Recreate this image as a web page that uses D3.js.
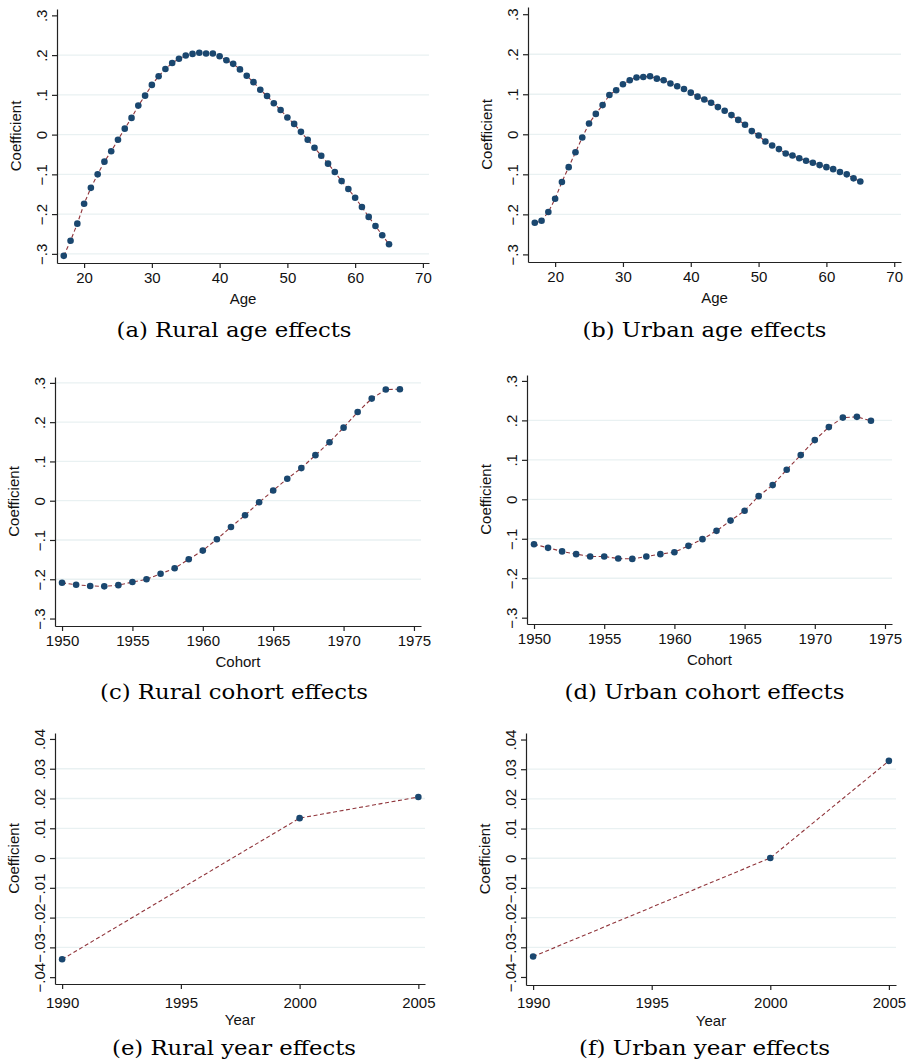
<!DOCTYPE html>
<html>
<head>
<meta charset="utf-8">
<script src="https://cdn.jsdelivr.net/npm/d3@7"></script>
<style>
    body { margin: 0; background: #fff; }
    svg { display: block; }
    .axis text, .axis-title { font-family: "Liberation Sans", Arial, sans-serif; font-size: 15px; fill: #111; }
    .axis path, .axis line { stroke: #222; stroke-width: 1.2; }
    .grid line { stroke: #e9f1f2; stroke-width: 1.3; }
    .caption { font-family: "DejaVu Serif", serif; font-size: 19.5px; fill: #000; }
    .series { fill: none; stroke: #90353b; stroke-width: 1.1; stroke-dasharray: 4,2.6; }
    .point { fill: #1a476f; }
</style>
</head>
<body>
<div id="chart"></div>
<script>

// ---- DATA ----
const ages = [17,18,19,20,21,22,23,24,25,26,27,28,29,30,31,32,33,34,35,36,37,38,39,40,41,
              42,43,44,45,46,47,48,49,50,51,52,53,54,55,56,57,58,59,60,61,62,63,64,65];
const ruralAge = [-0.305,-0.267,-0.224,-0.174,-0.134,-0.100,-0.068,-0.042,-0.013,0.015,0.042,0.073,0.098,
                  0.125,0.147,0.165,0.180,0.191,0.199,0.203,0.206,0.204,0.204,0.197,0.187,0.178,0.164,
                  0.148,0.132,0.113,0.097,0.079,0.062,0.043,0.027,0.007,-0.013,-0.033,-0.053,-0.073,
                  -0.094,-0.117,-0.137,-0.159,-0.182,-0.207,-0.230,-0.253,-0.276];
const urbanAge = [-0.221,-0.216,-0.194,-0.161,-0.119,-0.082,-0.045,-0.008,0.027,0.051,0.073,0.098,0.110,
                  0.125,0.135,0.142,0.143,0.145,0.139,0.135,0.127,0.120,0.113,0.104,0.094,0.087,0.079,
                  0.068,0.059,0.048,0.036,0.024,0.008,-0.003,-0.018,-0.028,-0.037,-0.048,-0.053,-0.060,
                  -0.066,-0.071,-0.077,-0.082,-0.087,-0.094,-0.100,-0.110,-0.118];

const cohorts = [1950,1951,1952,1953,1954,1955,1956,1957,1958,1959,1960,1961,1962,
                 1963,1964,1965,1966,1967,1968,1969,1970,1971,1972,1973,1974];
const ruralCohort = [-0.209,-0.214,-0.217,-0.218,-0.215,-0.207,-0.200,-0.186,-0.172,-0.149,-0.127,-0.098,
                     -0.067,-0.037,-0.004,0.026,0.056,0.083,0.116,0.149,0.186,0.226,0.260,0.283,0.284];
const urbanCohort = [-0.114,-0.123,-0.132,-0.139,-0.145,-0.145,-0.150,-0.151,-0.145,-0.139,-0.134,-0.118,
                     -0.101,-0.080,-0.054,-0.029,0.008,0.036,0.075,0.112,0.150,0.183,0.207,0.209,0.199];

const years = [1990, 2000, 2005];
const ruralYear = [-0.0340, 0.0134, 0.0205];
const urbanYear = [-0.0331, 0.0001, 0.0328];

// ticks
const ageTicks = [20, 30, 40, 50, 60, 70];
const cohortTicks = [1950, 1955, 1960, 1965, 1970, 1975];
const yearTicks = [1990, 1995, 2000, 2005];
const coefTicks = [-0.3, -0.2, -0.1, 0, 0.1, 0.2, 0.3];
const yearCoefTicks = [-0.04, -0.03, -0.02, -0.01, 0, 0.01, 0.02, 0.03, 0.04];

// gridlines shown in each panel
const gridA = [-0.3, -0.2, -0.1, 0, 0.1, 0.2];
const gridB = [-0.2, -0.1, 0, 0.1, 0.2];
const gridC = [-0.2, -0.1, 0, 0.1, 0.2, 0.3];
const gridD = [-0.2, -0.1, 0, 0.1, 0.2];
const gridYear = [-0.03, -0.02, -0.01, 0, 0.01, 0.02, 0.03];

const captions = ['(a) Rural age effects', '(b) Urban age effects', '(c) Rural cohort effects',
                  '(d) Urban cohort effects', '(e) Rural year effects', '(f) Urban year effects'];


class Panel {

    constructor(svg, x, y, config) {
        this.svg = svg;
        this.xs = x;
        this.ys = y;
        this.cfg = config;
        this.draw();
    }

    fmt(v) {
        if (v === 0) return '0';
        let s = d3.format('.2~f')(Math.abs(v)).replace(/^0\./, '.');
        return (v < 0 ? '\u2212' : '') + s;
    }

    draw() {
        let self = this, c = this.cfg;

        let x = d3.scaleLinear().domain(c.xDomain).range([c.box[0], c.box[1]]);
        let y = d3.scaleLinear().domain(c.yDomain).range([c.box[3], c.box[2]]);

        let g = this.svg.append('g').attr('class', 'panel');

        // GRIDLINES
        g.append('g').attr('class', 'grid')
            .selectAll('line').data(c.grid).enter().append('line')
            .attr('x1', c.box[0]).attr('x2', c.box[1])
            .attr('y1', function(d) { return y(d); })
            .attr('y2', function(d) { return y(d); });

        // AXIS
        g.append('g').attr('class', 'axis axis--x')
            .attr('transform', 'translate(0,' + c.box[3] + ')')
            .call(d3.axisBottom(x).tickValues(c.xTicks).tickSize(5).tickSizeOuter(0)
                .tickPadding(c.xPad).tickFormat(d3.format('d')));

        let ya = g.append('g').attr('class', 'axis axis--y')
            .attr('transform', 'translate(' + c.box[0] + ',0)')
            .call(d3.axisLeft(y).tickValues(c.yTicks).tickSize(5).tickSizeOuter(0)
                .tickFormat(function(d) { return self.fmt(d); }));

        ya.selectAll('text')
            .attr('x', 0).attr('y', 0).attr('dy', 0)
            .attr('text-anchor', 'middle')
            .attr('transform', 'translate(-10,0) rotate(-90)');

        // AXIS TITLES
        g.append('text').attr('class', 'axis-title')
            .attr('text-anchor', 'middle')
            .attr('x', (c.box[0] + c.box[1]) / 2)
            .attr('y', c.box[3] + 41)
            .text(c.xTitle);

        g.append('text').attr('class', 'axis-title')
            .attr('text-anchor', 'middle')
            .attr('transform', 'translate(' + (c.box[0] - 36) + ',' + ((c.box[2] + c.box[3]) / 2) + ') rotate(-90)')
            .text('Coefficient');

        // LINE
        let pts = this.xs.map(function(d, i) { return [d, self.ys[i]]; });
        let line = d3.line()
            .x(function(d) { return x(d[0]); })
            .y(function(d) { return y(d[1]); });

        g.append('path').attr('class', 'series').attr('d', line(pts));

        // POINTS
        g.selectAll('.point').data(pts).enter().append('circle')
            .attr('class', 'point')
            .attr('r', 3.3)
            .attr('cx', function(d) { return x(d[0]); })
            .attr('cy', function(d) { return y(d[1]); });

        // CAPTION
        g.append('text').attr('class', 'caption')
            .attr('text-anchor', 'middle')
            .attr('x', c.capX).attr('y', c.capY)
            .attr('textLength', c.capW)
            .attr('lengthAdjust', 'spacingAndGlyphs')
            .text(c.caption);
    }
}

let svg = d3.select('#chart').append('svg')
    .attr('width', 910).attr('height', 1064)
    .attr('viewBox', '0 0 910 1064');

new Panel(svg, ages, ruralAge, {
    box: [57, 429, 9, 263], xDomain: [16.0, 70.9], yDomain: [-0.323, 0.316],
    xTicks: ageTicks, yTicks: coefTicks, grid: gridA, xPad: 4.4, xTitle: 'Age',
    caption: captions[0], capX: 234, capY: 337, capW: 235
});
new Panel(svg, ages, urbanAge, {
    box: [528, 901, 7, 262], xDomain: [16.0, 71.0], yDomain: [-0.319, 0.318],
    xTicks: ageTicks, yTicks: coefTicks, grid: gridB, xPad: 4.8, xTitle: 'Age',
    caption: captions[1], capX: 704.5, capY: 337, capW: 244
});
new Panel(svg, cohorts, ruralCohort, {
    box: [55, 421, 377, 626], xDomain: [1949.5, 1975.5], yDomain: [-0.319, 0.315],
    xTicks: cohortTicks, yTicks: coefTicks, grid: gridC, xPad: 4.1, xTitle: 'Cohort',
    caption: captions[2], capX: 234, capY: 698.5, capW: 268
});
new Panel(svg, cohorts, urbanCohort, {
    box: [527, 892, 375, 624], xDomain: [1949.5, 1975.5], yDomain: [-0.316, 0.315],
    xTicks: cohortTicks, yTicks: coefTicks, grid: gridD, xPad: 4.1, xTitle: 'Cohort',
    caption: captions[3], capX: 704.5, capY: 698.5, capW: 280
});
new Panel(svg, years, ruralYear, {
    box: [55, 425, 733, 984], xDomain: [1989.7, 2005.28], yDomain: [-0.0423, 0.042],
    xTicks: yearTicks, yTicks: yearCoefTicks, grid: gridYear, xPad: 8.4, xTitle: 'Year',
    caption: captions[4], capX: 234, capY: 1055, capW: 244
});
new Panel(svg, years, urbanYear, {
    box: [526, 896, 733, 985], xDomain: [1989.7, 2005.3], yDomain: [-0.0427, 0.0422],
    xTicks: yearTicks, yTicks: yearCoefTicks, grid: gridYear, xPad: 7, xTitle: 'Year',
    caption: captions[5], capX: 704.5, capY: 1055, capW: 251
});

</script>
</body>
</html>
